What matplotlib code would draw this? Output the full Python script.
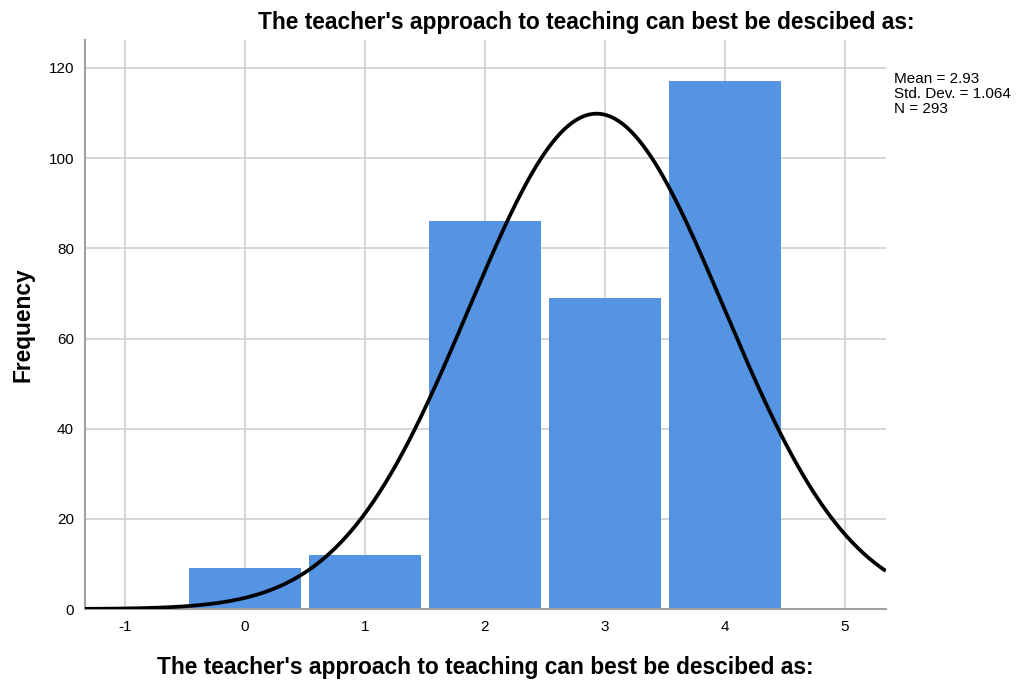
import numpy as np
import matplotlib
matplotlib.use('Agg')
import matplotlib.pyplot as plt

plt.rcParams['font.family'] = ['Liberation Sans', 'DejaVu Sans']
plt.rcParams['axes.unicode_minus'] = False

# 데이터
categories = [0, 1, 2, 3, 4]
counts = [9, 12, 86, 69, 117]
mean = 2.93
std = 1.064
n = 293
title = "The teacher's approach to teaching can best be descibed as:"

fig = plt.figure(figsize=(10.17, 6.84), dpi=100)
ax = fig.add_axes([0.0836, 0.1096, 0.7876, 0.8319])

ax.bar(categories, counts, width=0.94, color='#5594e3', zorder=2)

# 정규분포 곡선
xs = np.linspace(-1.34, 5.34, 400)
ys = n * 1.0 / (std * np.sqrt(2 * np.pi)) * np.exp(-0.5 * ((xs - mean) / std) ** 2)
ax.plot(xs, ys, color='black', lw=2.7, zorder=3, solid_capstyle='butt')

ax.set_xlim(-1.333, 5.342)
ax.set_ylim(0, 126.2)
ax.set_xticks([-1, 0, 1, 2, 3, 4, 5])
ax.set_yticks([0, 20, 40, 60, 80, 100, 120])
ax.grid(True, color='#cfcfcf', lw=1.2, zorder=0)
ax.set_axisbelow(True)
ax.tick_params(length=0, labelsize=11, pad=8)
for s in ['top', 'right']:
    ax.spines[s].set_visible(False)
for s in ['left', 'bottom']:
    ax.spines[s].set_color('#a0a0a0')
    ax.spines[s].set_linewidth(1.5)

ax.set_xlabel(title, fontsize=16.4, fontweight='bold', labelpad=16)
ax.set_ylabel('Frequency', fontsize=16.4, fontweight='bold', labelpad=10)
fig.text(0.577, 0.967, title, fontsize=16.4, fontweight='bold', ha='center', va='center')

fig.text(0.879, 0.895, 'Mean = %.2f\nStd. Dev. = %.3f\nN = %d' % (mean, std, n),
         fontsize=11, va='top', ha='left', linespacing=1.1)

plt.savefig('out.png', dpi=100)
